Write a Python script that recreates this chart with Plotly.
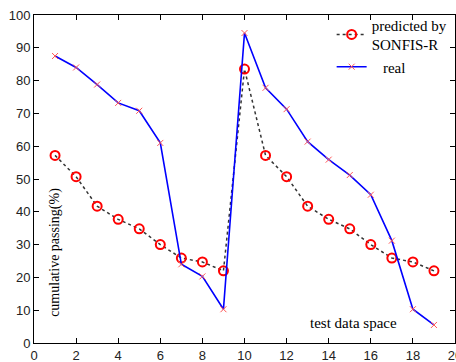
import plotly.graph_objects as go

x_vals = list(range(1, 20))
predicted = [57.2, 50.7, 41.7, 37.7, 34.8, 30.0, 25.9, 24.7, 22.0, 83.5,
             57.2, 50.7, 41.7, 37.7, 34.8, 30.0, 25.9, 24.7, 22.0]
real = [87.5, 84.0, 78.8, 73.2, 70.8, 61.0, 24.0, 20.3, 10.3, 94.5,
        77.8, 71.3, 61.4, 55.9, 51.2, 45.2, 31.2, 10.3, 5.5]
x_ticks = list(range(0, 21, 2))
y_ticks = list(range(0, 101, 10))

fig = go.Figure()
fig.add_trace(go.Scatter(
    x=x_vals, y=predicted, mode="lines+markers",
    name="predicted by<br>SONFIS-R",
    line=dict(color="#333333", width=1.5, dash="dot"),
    marker=dict(symbol="circle-open", size=9, color="red", line=dict(width=2, color="red")),
))
fig.add_trace(go.Scatter(
    x=x_vals, y=real, mode="lines+markers", name="\u2002 real",
    line=dict(color="blue", width=1.6),
    marker=dict(symbol="x-thin-open", size=6, color="#ff5555", line=dict(width=1, color="#ff5555")),
))

axis_common = dict(showline=True, linecolor="black", linewidth=1, mirror="ticks",
                   ticks="inside", ticklen=5, tickcolor="black", showgrid=False,
                   zeroline=False, automargin=False,
                   tickfont=dict(family="Arial", size=13, color="#222222"))
fig.update_xaxes(range=[0, 20], tickvals=x_ticks, ticklabelstandoff=0,
                 ticklabeloverflow="allow", **axis_common)
fig.update_yaxes(range=[0, 100], tickvals=y_ticks, **axis_common)

fig.add_annotation(x=0.05, y=0.275, xref="paper", yref="paper", text="cumulative passing(%)",
                   textangle=-90, showarrow=False, xanchor="center", yanchor="middle",
                   font=dict(family="Liberation Serif", size=14, color="black"))
fig.add_annotation(x=0.76, y=0.06, xref="paper", yref="paper", text="test data space",
                   showarrow=False, xanchor="center", yanchor="middle",
                   font=dict(family="Liberation Serif", size=15, color="black"))

fig.update_layout(
    width=456, height=362,
    margin=dict(l=34, r=1, t=15, b=19),
    paper_bgcolor="white", plot_bgcolor="white",
    legend=dict(x=0.707, y=1.02, xanchor="left", yanchor="top",
                bgcolor="rgba(0,0,0,0)", borderwidth=0,
                font=dict(family="Liberation Serif", size=15, color="black"),
                itemwidth=30, tracegroupgap=2),
    showlegend=True,
)

fig.write_html("out.html", config={"displayModeBar": False},
               post_script="document.body.style.margin='0px';document.body.style.overflow='hidden';")
